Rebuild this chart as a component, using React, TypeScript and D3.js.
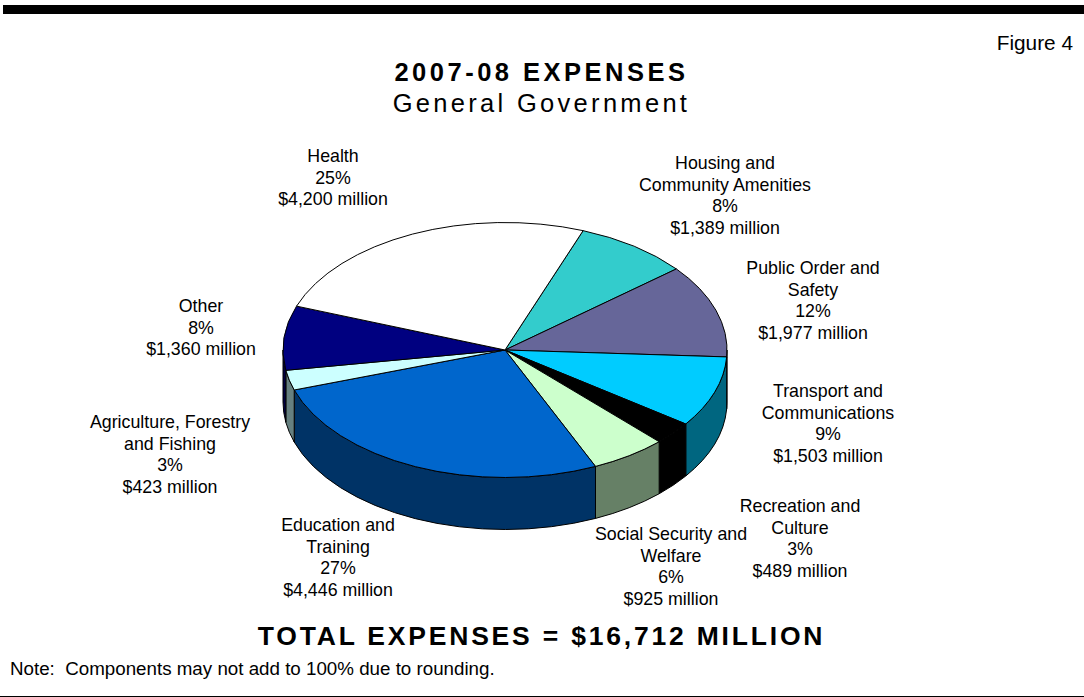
import React from "react";
import { arc, format, pie, scaleLinear } from "d3";

const categories = [
  ["Housing and", "Community Amenities"],
  ["Public Order and", "Safety"],
  ["Transport and", "Communications"],
  ["Recreation and", "Culture"],
  ["Social Security and", "Welfare"],
  ["Education and", "Training"],
  ["Agriculture, Forestry", "and Fishing"],
  ["Other"],
  ["Health"],
];
const amounts = [1389, 1977, 1503, 489, 925, 4446, 423, 1360, 4200];
const percents = [8, 12, 9, 3, 6, 27, 3, 8, 25];
const topColors = ["#33cccc", "#666699", "#00ccff", "#000000", "#ccffcc", "#0066cc", "#ccffff", "#000080", "#ffffff"];
const wallColors = ["#1a6666", "#333366", "#006680", "#000000", "#668066", "#003366", "#668080", "#000040", "#808080"];

// label layout, same order as categories: centre x, first baseline
const labelX = [725, 813, 828, 800, 671, 338, 170, 201, 333];
const labelY = [169, 274, 397, 512, 540, 531, 428, 312, 162];

const width = 1084;
const height = 697;
const cx = 505;
const cy = 350;
const rx = 222;
const ry = 127.5;
const depth = 52;
const startDeg = 20.6;
const lineGap = 21.6;
const font = "'Liberation Sans', Arial, sans-serif";

const TAU = Math.PI * 2;
const xScale = scaleLinear().domain([-1, 1]).range([cx - rx, cx + rx]);
const yScale = scaleLinear().domain([-1, 1]).range([cy - ry, cy + ry]);

const start = (startDeg / 360) * TAU;
const slices = pie<number>()
  .sort(null)
  .startAngle(start)
  .endAngle(start + TAU)(amounts);

const flatArc = arc<any>().innerRadius(0).outerRadius(rx);

const px = (a: number) => xScale(Math.sin(a));
const py = (a: number) => yScale(-Math.cos(a));

// side wall of a slice: only the front half of the rim (PI/2..3PI/2) shows
const wallPath = (a0: number, a1: number) => {
  const from = Math.max(a0, Math.PI / 2);
  const to = Math.min(a1, (3 * Math.PI) / 2);
  if (to <= from) return null;
  return [
    `M${px(from)},${py(from)}`,
    `A${rx},${ry} 0 0 1 ${px(to)},${py(to)}`,
    `L${px(to)},${py(to) + depth}`,
    `A${rx},${ry} 0 0 0 ${px(from)},${py(from) + depth}`,
    "Z",
  ].join("");
};

export default function App() {
  return (
    <svg
      width={width}
      height={height}
      viewBox={`0 0 ${width} ${height}`}
      style={{ position: "absolute", left: 0, top: 0, background: "#fff", fontFamily: font }}
    >
      <rect x={3} y={5} width={width - 3} height={9} fill="#000" />
      <rect x={0} y={696} width={width} height={1} fill="#000" />

      <text x={1073} y={50} textAnchor="end" fontSize={20.8}>Figure 4</text>
      <text x={541.5} y={80.5} textAnchor="middle" fontSize={25.5} fontWeight="bold" letterSpacing={3.5}>2007-08 EXPENSES</text>
      <text x={541.5} y={112} textAnchor="middle" fontSize={25.5} letterSpacing={3.3}>General Government</text>

      {slices.map((s, i) => {
        const d = wallPath(s.startAngle, s.endAngle);
        return d ? <path key={i} d={d} fill={wallColors[i]} stroke="#000" strokeWidth={1} /> : null;
      })}

      <g transform={`translate(${cx},${cy}) scale(1,${ry / rx})`}>
        {slices.map((s, i) => (
          <path
            key={i}
            d={flatArc(s) as string}
            fill={topColors[i]}
            stroke="#000"
            strokeWidth={1}
            vectorEffect="non-scaling-stroke"
          />
        ))}
      </g>

      <g fontSize={17.8} textAnchor="middle" fill="#000">
        {categories.map((name, i) => {
          const lines = [...name, `${percents[i]}%`, `$${format(",")(amounts[i])} million`];
          return (
            <text key={i}>
              {lines.map((line, j) => (
                <tspan key={j} x={labelX[i]} y={labelY[i] + j * lineGap}>{line}</tspan>
              ))}
            </text>
          );
        })}
      </g>

      <text x={541.5} y={645} textAnchor="middle" fontSize={26.5} fontWeight="bold" letterSpacing={2.8}>TOTAL EXPENSES = $16,712 MILLION</text>
      <text x={10} y={675} fontSize={18.75}>{"Note:\u00a0 Components may not add to 100% due to rounding."}</text>
    </svg>
  );
}
